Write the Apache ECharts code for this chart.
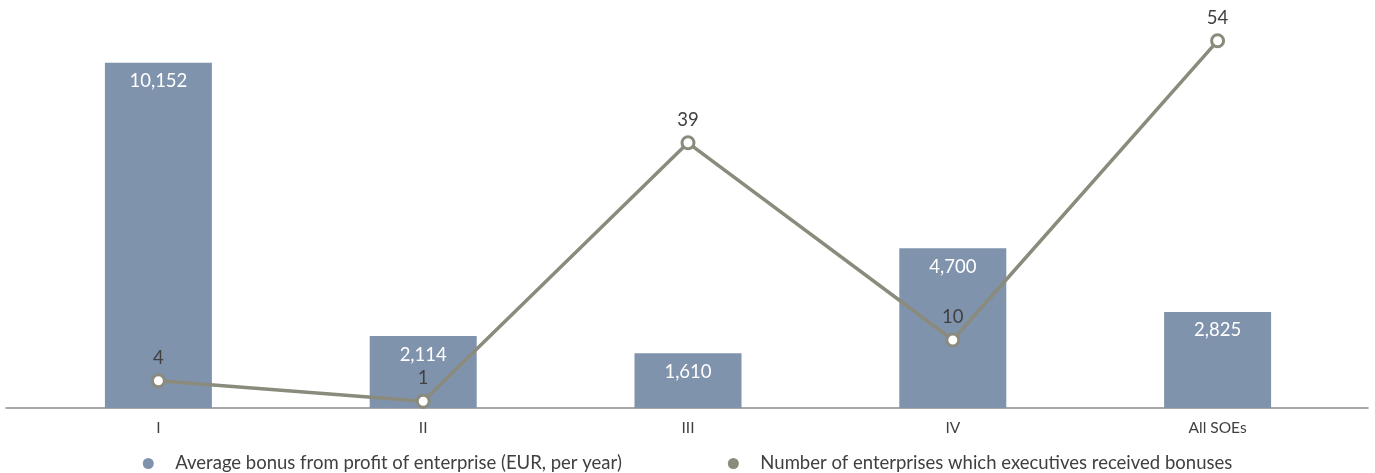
<!DOCTYPE html>
<html><head><meta charset="utf-8">
<script src="https://cdn.jsdelivr.net/npm/echarts@6/dist/echarts.min.js"></script>
<style>html,body{margin:0;padding:0;background:#fff}#c{width:1375px;height:473px}</style>
</head><body><div id="c"></div>
<script>
const categories = ['I', 'II', 'III', 'IV', 'All SOEs'];
const bonusValues = [10152, 2114, 1610, 4700, 2825];
const enterpriseCounts = [4, 1, 39, 10, 54];
const seriesNames = ['Average bonus from profit of enterprise (EUR, per year)', 'Number of enterprises which executives received bonuses'];

const FONT = 'Lato, "Open Sans", sans-serif';
const chart = echarts.init(document.getElementById('c'));
chart.setOption({
  animation: false,
  textStyle: { fontFamily: FONT },
  grid: [
    { left: 26, right: 25, top: 0, bottom: 65, containLabel: false },
    { left: 6, right: 7, top: 0, bottom: 65, containLabel: false }
  ],
  legend: {
    top: 449, left: 'center', itemGap: 106, icon: 'circle', itemWidth: 44, itemHeight: 11,
    textStyle: { fontFamily: FONT, fontSize: 18.5, color: '#404040' },
    data: [
      { name: seriesNames[0], itemStyle: { color: '#8093ad' } },
      { name: seriesNames[1], itemStyle: { color: '#8b8b7d', borderWidth: 0 } }
    ]
  },
  xAxis: [
    { type: 'category', data: categories, gridIndex: 0,
      axisLine: { show: false }, axisTick: { show: false },
      axisLabel: { fontFamily: FONT, fontSize: 15.5, color: '#404040', margin: 12 } },
    { type: 'value', gridIndex: 1, min: 0, max: 1,
      axisLine: { show: true, lineStyle: { color: '#8a8a8a', width: 1.5 } },
      axisTick: { show: false }, axisLabel: { show: false }, splitLine: { show: false } }
  ],
  yAxis: [
    { type: 'value', gridIndex: 0, min: 0, max: 12000, show: false, splitLine: { show: false } },
    { type: 'value', gridIndex: 0, min: 0, max: 60, show: false, splitLine: { show: false } },
    { type: 'value', gridIndex: 1, min: 0, max: 1, show: false, splitLine: { show: false } }
  ],
  series: [
    { name: seriesNames[0], type: 'bar', xAxisIndex: 0, yAxisIndex: 0, data: bonusValues,
      barWidth: 107, itemStyle: { color: '#8093ad' },
      label: { show: true, position: 'insideTop', distance: 9, color: '#ffffff', fontSize: 18.5, fontFamily: FONT,
        formatter: p => p.value.toLocaleString('en-US') } },
    { name: seriesNames[1], type: 'line', xAxisIndex: 0, yAxisIndex: 1, data: enterpriseCounts,
      z: 5, symbol: 'circle', symbolSize: 12,
      lineStyle: { color: '#8b8b7d', width: 3.5 },
      itemStyle: { color: '#ffffff', borderColor: '#8b8b7d', borderWidth: 3 },
      label: { show: true, position: 'top', distance: 6, color: '#404040', fontSize: 18.5, fontFamily: FONT } }
  ]
});
</script></body></html>
